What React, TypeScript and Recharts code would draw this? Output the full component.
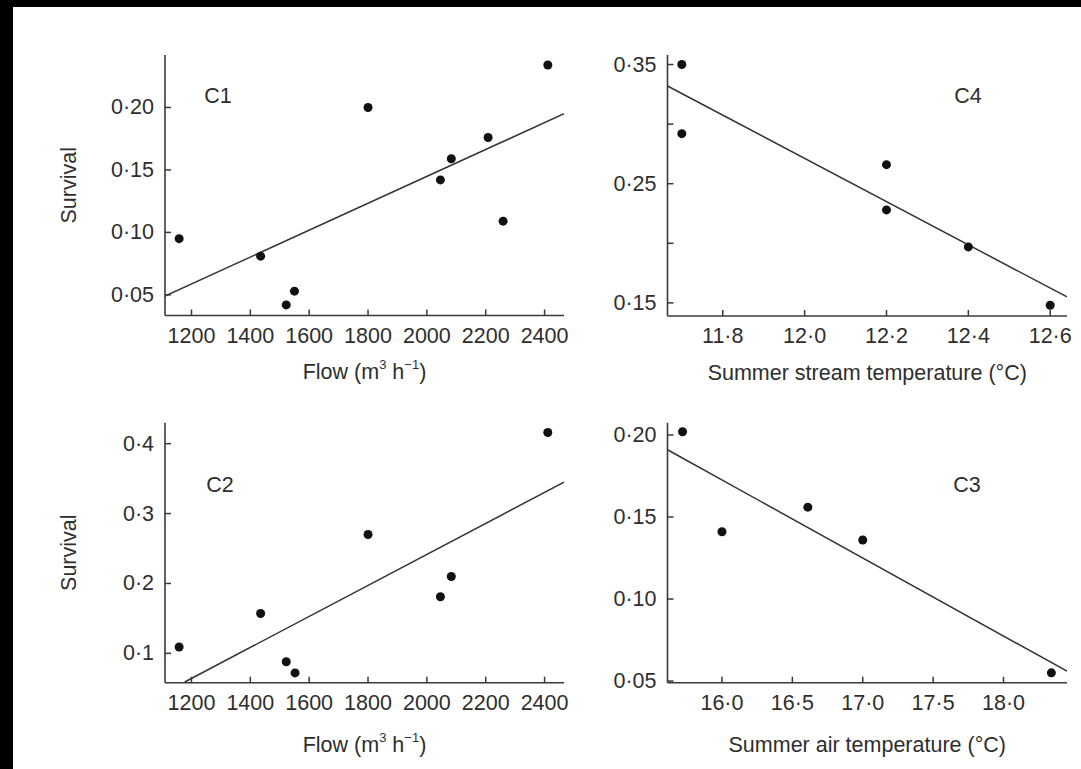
import React from "react";
import { Label, Scatter, ScatterChart, XAxis, YAxis } from "recharts";

// panel C1: survival vs flow
const FLOW_C1 = [1158, 1435, 1522, 1550, 1800, 2046, 2083, 2208, 2259, 2411];
const SURV_C1 = [0.095, 0.081, 0.042, 0.053, 0.2, 0.142, 0.159, 0.176, 0.109, 0.234];
const FIT_C1_X = [1110, 2466];
const FIT_C1_Y = [0.049, 0.195];

// panel C2: survival vs flow
const FLOW_C2 = [1158, 1435, 1522, 1552, 1800, 2046, 2083, 2411];
const SURV_C2 = [0.109, 0.157, 0.088, 0.072, 0.27, 0.181, 0.21, 0.416];
const FIT_C2_X = [1177, 2466];
const FIT_C2_Y = [0.059, 0.345];

// panel C4: survival vs summer stream temperature
const STREAM_C4 = [11.7, 11.7, 12.2, 12.2, 12.4, 12.6];
const SURV_C4 = [0.35, 0.292, 0.266, 0.228, 0.197, 0.148];
const FIT_C4_X = [11.665, 12.641];
const FIT_C4_Y = [0.332, 0.155];

// panel C3: survival vs summer air temperature
const AIR_C3 = [15.72, 16.0, 16.61, 17.0, 18.34];
const SURV_C3 = [0.202, 0.141, 0.156, 0.136, 0.055];
const FIT_C3_X = [15.613, 18.451];
const FIT_C3_Y = [0.191, 0.056];

const FLOW_TICKS = [1200, 1400, 1600, 1800, 2000, 2200, 2400];
const C1_Y_TICKS = [0.05, 0.1, 0.15, 0.2];
const C2_Y_TICKS = [0.1, 0.2, 0.3, 0.4];
const C4_X_TICKS = [11.8, 12.0, 12.2, 12.4, 12.6];
const C4_Y_TICKS = [0.15, 0.2, 0.25, 0.3, 0.35];
const C4_Y_LABELLED = [0.15, 0.25, 0.35];
const C3_X_TICKS = [16.0, 16.5, 17.0, 17.5, 18.0];
const C3_Y_TICKS = [0.05, 0.1, 0.15, 0.2];

const FONT = "'Liberation Sans', Arial, Helvetica, sans-serif";
const TEXT = "#2e2e2e";
const AXIS = "#3a3a3a";
const FS = 21.5;

const zip = (xs: number[], ys: number[]) => xs.map((x, i) => ({ x, y: ys[i] }));
const fmt = (v: number, dec: number) => v.toFixed(dec).replace(".", "·");

const makeXTick = (dec: number) => (props: any) => {
  const { x, y, payload } = props;
  return (
    <g>
      <line x1={x} y1={y} x2={x} y2={y - 6} stroke={AXIS} strokeWidth={1.5} />
      <text x={x} y={y + 20} textAnchor="middle" dominantBaseline="central" fill={TEXT} fontSize={FS} fontFamily={FONT}>
        {fmt(payload.value, dec)}
      </text>
    </g>
  );
};

const makeYTick = (dec: number, labelled?: number[]) => (props: any) => {
  const { x, y, payload } = props;
  const show = !labelled || labelled.some((v) => Math.abs(v - payload.value) < 1e-9);
  return (
    <g>
      <line x1={x} y1={y} x2={x + 6} y2={y} stroke={AXIS} strokeWidth={1.5} />
      {show && (
        <text x={x - 11} y={y} textAnchor="end" dominantBaseline="central" fill={TEXT} fontSize={FS} fontFamily={FONT}>
          {fmt(payload.value, dec)}
        </text>
      )}
    </g>
  );
};

const Dot = (p: any) => <circle cx={p.cx} cy={p.cy} r={4.5} fill="#111" />;
const NoDot = () => <g />;

const flowLabel = (
  <>
    Flow (m<tspan dy={-8} fontSize={13}>3</tspan>
    <tspan dy={8}> h</tspan>
    <tspan dy={-8} fontSize={13}>−1</tspan>
    <tspan dy={8}>)</tspan>
  </>
);

type PanelProps = {
  left: number;
  top: number;
  width: number;
  height: number;
  margin: { top: number; right: number; bottom: number; left: number };
  yWidth: number;
  xDomain: [number, number];
  yDomain: [number, number];
  xTicks: number[];
  yTicks: number[];
  xDec: number;
  yDec: number;
  yLabelled?: number[];
  points: { x: number; y: number }[];
  fit: { x: number; y: number }[];
  xLabel: React.ReactNode;
  xLabelGap: number;
  yLabel?: string;
};

function Panel(p: PanelProps) {
  return (
    <div style={{ position: "absolute", left: p.left, top: p.top }}>
      <ScatterChart width={p.width} height={p.height} margin={p.margin}>
        <XAxis
          type="number"
          dataKey="x"
          domain={p.xDomain}
          allowDataOverflow
          ticks={p.xTicks}
          tickSize={0}
          tickMargin={0}
          tickLine={false}
          tick={makeXTick(p.xDec)}
          axisLine={{ stroke: AXIS, strokeWidth: 1.6 }}
          height={70}
        >
          <Label
            content={(lp: any) => {
              const vb = lp.viewBox;
              return (
                <text
                  x={vb.x + vb.width / 2}
                  y={vb.y + p.xLabelGap}
                  textAnchor="middle"
                  dominantBaseline="central"
                  fill={TEXT}
                  fontSize={FS}
                  fontFamily={FONT}
                >
                  {p.xLabel}
                </text>
              );
            }}
          />
        </XAxis>
        <YAxis
          type="number"
          dataKey="y"
          domain={p.yDomain}
          allowDataOverflow
          ticks={p.yTicks}
          tickSize={0}
          tickMargin={0}
          tickLine={false}
          tick={makeYTick(p.yDec, p.yLabelled)}
          axisLine={{ stroke: AXIS, strokeWidth: 1.6 }}
          width={p.yWidth}
        >
          {p.yLabel && (
            <Label
              content={(lp: any) => {
                const vb = lp.viewBox;
                const cx = vb.x + vb.width - 96;
                const cy = vb.y + vb.height / 2;
                return (
                  <text
                    x={cx}
                    y={cy}
                    transform={`rotate(-90 ${cx} ${cy})`}
                    textAnchor="middle"
                    dominantBaseline="central"
                    fill={TEXT}
                    fontSize={FS}
                    fontFamily={FONT}
                  >
                    {p.yLabel}
                  </text>
                );
              }}
            />
          )}
        </YAxis>
        <Scatter
          data={p.fit}
          line={{ stroke: "#333", strokeWidth: 1.5 }}
          shape={NoDot}
          isAnimationActive={false}
        />
        <Scatter data={p.points} shape={Dot} isAnimationActive={false} />
      </ScatterChart>
    </div>
  );
}

const Tag = ({ x, y, text }: { x: number; y: number; text: string }) => (
  <div
    style={{
      position: "absolute",
      left: x,
      top: y,
      transform: "translate(-50%, -50%)",
      fontFamily: FONT,
      fontSize: FS,
      color: TEXT,
      lineHeight: 1,
    }}
  >
    {text}
  </div>
);

export default function App() {
  return (
    <div style={{ position: "absolute", left: 0, top: 0, width: 1081, height: 769, background: "#fff", overflow: "hidden" }}>
      <div style={{ position: "absolute", left: 0, top: 0, width: 13, height: 769, background: "#000" }} />
      <div style={{ position: "absolute", left: 0, top: 0, width: 1081, height: 7, background: "#000" }} />

      <Panel
        left={0}
        top={0}
        width={580}
        height={390}
        margin={{ top: 55, right: 16, bottom: 4.5, left: 65 }}
        yWidth={100}
        xDomain={[1110, 2466]}
        yDomain={[0.0335, 0.242]}
        xTicks={FLOW_TICKS}
        yTicks={C1_Y_TICKS}
        xDec={0}
        yDec={2}
        points={zip(FLOW_C1, SURV_C1)}
        fit={zip(FIT_C1_X, FIT_C1_Y)}
        xLabel={flowLabel}
        xLabelGap={56.5}
        yLabel="Survival"
      />
      <Panel
        left={580}
        top={0}
        width={501}
        height={390}
        margin={{ top: 55, right: 14, bottom: 4, left: 7.5 }}
        yWidth={80}
        xDomain={[11.665, 12.641]}
        yDomain={[0.139, 0.358]}
        xTicks={C4_X_TICKS}
        yTicks={C4_Y_TICKS}
        yLabelled={C4_Y_LABELLED}
        xDec={1}
        yDec={2}
        points={zip(STREAM_C4, SURV_C4)}
        fit={zip(FIT_C4_X, FIT_C4_Y)}
        xLabel="Summer stream temperature (°C)"
        xLabelGap={56.5}
      />
      <Panel
        left={0}
        top={390}
        width={580}
        height={379}
        margin={{ top: 32.7, right: 16, bottom: 16.3, left: 65 }}
        yWidth={100}
        xDomain={[1110, 2466]}
        yDomain={[0.058, 0.43]}
        xTicks={FLOW_TICKS}
        yTicks={C2_Y_TICKS}
        xDec={0}
        yDec={1}
        points={zip(FLOW_C2, SURV_C2)}
        fit={zip(FIT_C2_X, FIT_C2_Y)}
        xLabel={flowLabel}
        xLabelGap={62}
        yLabel="Survival"
      />
      <Panel
        left={580}
        top={390}
        width={501}
        height={379}
        margin={{ top: 32.7, right: 14, bottom: 16.3, left: 7.5 }}
        yWidth={80}
        xDomain={[15.613, 18.451]}
        yDomain={[0.049, 0.2075]}
        xTicks={C3_X_TICKS}
        yTicks={C3_Y_TICKS}
        xDec={1}
        yDec={2}
        points={zip(AIR_C3, SURV_C3)}
        fit={zip(FIT_C3_X, FIT_C3_Y)}
        xLabel="Summer air temperature (°C)"
        xLabelGap={62}
      />

      <Tag x={218} y={97} text="C1" />
      <Tag x={968} y={97} text="C4" />
      <Tag x={220} y={486} text="C2" />
      <Tag x={967} y={486} text="C3" />
    </div>
  );
}
